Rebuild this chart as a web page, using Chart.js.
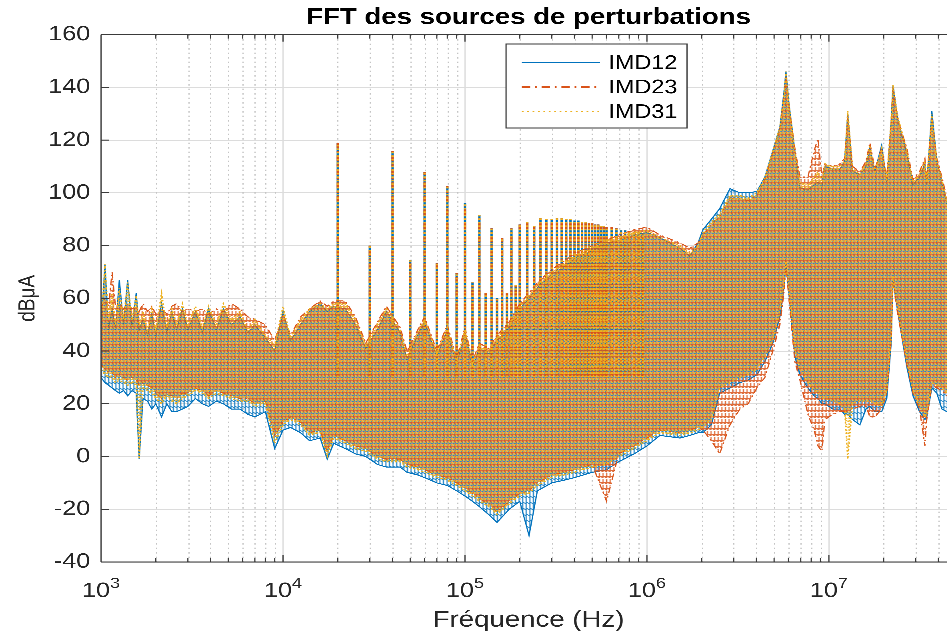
<!DOCTYPE html>
<html>
<head>
<meta charset="utf-8">
<title>FFT des sources de perturbations</title>
<script src="https://cdn.jsdelivr.net/npm/chart.js@4.4.1/dist/chart.umd.min.js"></script>
<style>
  html, body { margin: 0; padding: 0; background: #fff; overflow: hidden; }
  #wrap { width: 800px; height: 635px; transform: scaleX(1.2); transform-origin: 0 0; }
</style>
</head>
<body>
<div id="wrap"><canvas id="fftChart"></canvas></div>
<script>
// spectrum envelopes (dBuA) on a common frequency grid (Hz)
const seriesNames = ['IMD12', 'IMD23', 'IMD31'];

const freqs = [
  1000, 1050, 1100, 1150, 1200, 1260, 1330, 1400, 1480, 1560,
  1620, 1700, 1800, 1900, 2000, 2150, 2300, 2450, 2600, 2800,
  3000, 3300, 3600, 3900, 4300, 4700, 5200, 5800, 6400, 7000,
  8000, 9000, 10000, 11000, 12500, 14000, 16000, 17500, 19000, 22000,
  25000, 28500, 33000, 37000, 44000, 48000, 55000, 60000, 70000, 80000,
  90000, 100000, 110000, 120000, 135000, 150000, 175000, 200000, 225000, 250000,
  300000, 350000, 400000, 500000, 600000, 700000, 850000, 1000000, 1180000, 1520000,
  1720000, 1910000, 2030000, 2260000, 2510000, 2860000, 3240000, 3600000, 4020000, 4450000,
  4920000, 5380000, 5660000, 5810000, 6030000, 6500000, 6930000, 7670000, 8300000, 8710000,
  9160000, 9510000, 10500000, 11500000, 12200000, 12700000, 13500000, 14800000, 16000000, 16800000,
  17900000, 19500000, 20800000, 22000000, 22500000, 23900000, 26800000, 29000000, 31500000, 33700000,
  34500000, 36800000, 39200000, 41800000, 44500000, 50000000
];

const imd12Hi = [
  47, 73, 48, 56, 48, 67, 50, 67, 49, 62,
  48, 52, 46, 54, 46, 58, 47, 55, 48, 56,
  48, 55, 47, 56, 48, 56, 50, 53, 47, 50,
  45, 40, 55, 44, 50, 55, 58, 55, 57, 56,
  50, 41, 48, 55, 47, 37, 46, 51, 38, 48,
  35, 47, 34, 41, 39, 44, 49, 56, 60, 64,
  69, 72, 75, 78, 81, 82, 84, 85, 83, 79,
  76, 81, 86, 90, 94, 101.6, 100, 100, 100.5, 106,
  116, 125, 138, 146, 134, 116, 102, 101, 103, 104,
  103, 110, 109, 109, 112, 130, 108, 107, 110, 117,
  108, 118, 104, 127, 141, 128, 115, 103, 106, 111,
  103, 131, 112, 104, 96, 94
];
const imd12Lo = [
  30, 28, 27, 26, 25, 24, 25, 23, 25, 24,
  -1, 22, 21, 18, 20, 15, 20, 17, 17, 18,
  19, 22, 20, 19, 21, 20, 18, 18, 16, 15,
  17, 3, 10, 11, 9, 6, 7, -1, 5, 3,
  1, 0, -3, -4, -4, -6, -7, -8, -10, -11,
  -13, -15, -17, -19, -22, -25, -20, -17, -30, -13,
  -10, -9, -8, -6, -5, -2, 1, 4, 8, 7,
  8, 9, 9, 12, 24, 26, 28, 29, 31, 36,
  43, 53, 64, 73, 62, 38, 31, 26, 23, 22,
  20, 20, 18, 18, 16, 16, 14, 12, 18, 19,
  17, 17, 22, 43, 67, 55, 34, 23, 17, 14,
  15, 26, 24, 18, 17, 18
];

const imd23Hi = [
  56, 60, 57, 70, 57, 58, 56, 58, 56, 57,
  55, 58, 55, 57, 54, 56, 54, 57, 58, 55,
  56, 55, 56, 54, 56, 55, 58, 56, 53, 52,
  50, 44, 54, 46, 53, 56, 59, 57, 59, 59,
  53, 43, 51, 57, 49, 40, 48, 53, 40, 50,
  37, 49, 36, 43, 41, 46, 51, 58, 62, 66,
  71, 74, 77, 80, 82, 84, 86, 87, 84, 81,
  79, 81, 84, 88, 91, 98, 98, 97, 99, 105,
  115, 124, 136, 144, 133, 117, 106, 106, 116, 120.6,
  106, 111, 110, 111, 113, 129, 110, 108, 112, 119,
  109, 117, 106, 127, 140, 128, 117, 105, 108, 113,
  105, 128, 113, 106, 98, 96
];
const imd23Lo = [
  35, 33, 32, 32, 30, 31, 30, 29, 30, 29,
  27, 28, 27, 26, 24, 22, 24, 23, 22, 24,
  24, 26, 25, 23, 25, 24, 23, 22, 22, 20,
  21, 8, 13, 15, 13, 9, 10, 2, 8, 6,
  4, 3, 0, -1, -1, -3, -4, -5, -7, -8,
  -10, -12, -14, -16, -18, -21, -17, -14, -13, -10,
  -7, -6, -5, -3, -17, 1, 4, 7, 10, 9,
  10, 11, 10, 6, 1, 12, 18, 20, 26, 30,
  40, 50, 62, 72, 60, 36, 29, 16, 10, 4,
  2, 14, 16, 17, 17, 17, 18, 19, 19, 15,
  15, 18, 24, 44, 66, 54, 35, 24, 18, 4,
  14, 27, 26, 25, 23, 24
];

const imd31Hi = [
  50, 73, 52, 62, 50, 64, 52, 66, 52, 61,
  50, 55, 48, 56, 48, 62, 49, 56, 50, 58,
  50, 57, 49, 57, 50, 58, 52, 55, 48, 52,
  46, 42, 57, 45, 52, 56, 58, 56, 58, 58,
  52, 42, 50, 56, 48, 38, 47, 52, 39, 49,
  36, 48, 35, 42, 40, 45, 50, 57, 61, 65,
  70, 73, 76, 79, 82, 83, 85, 86, 83, 80,
  77, 80, 85, 89, 92, 99, 99, 98, 100, 106,
  116, 125, 137, 146, 134, 116, 104, 103, 106, 108,
  104, 111, 110, 110, 112, 131, 109, 107, 111, 118,
  108, 117, 105, 128, 141, 129, 116, 104, 107, 112,
  104, 130, 112, 105, 97, 95
];
const imd31Lo = [
  33, 31, 30, 30, 28, 29, 28, 27, 28, 27,
  -1, 26, 25, 24, 22, 20, 23, 21, 20, 22,
  23, 25, 24, 22, 24, 23, 22, 21, 21, 19,
  20, 5, 12, 14, 12, 8, 9, 0, 7, 5,
  3, 2, -1, -2, -2, -4, -5, -6, -8, -9,
  -11, -13, -15, -17, -19, -22, -18, -15, -14, -11,
  -8, -7, -6, -4, -3, 0, 3, 6, 9, 8,
  9, 10, 11, 14, 26, 28, 30, 31, 33, 38,
  44, 55, 65, 74, 63, 40, 33, 28, 25, 24,
  22, 22, 21, 20, 18, -1, 20, 21, 21, 21,
  20, 19, 25, 45, 68, 56, 36, 25, 19, 15,
  16, 28, 27, 26, 24, 25
];

// switching harmonics standing above the noise floor
const spikeFreqs = [
  20e3, 30e3, 40e3, 50e3, 60e3, 70e3, 80e3, 90e3, 100e3, 110e3,
  120e3, 130e3, 140e3, 150e3, 160e3, 170e3, 180e3, 190e3, 200e3, 220e3,
  240e3, 260e3, 280e3, 300e3, 320e3, 340e3, 360e3, 380e3, 400e3, 420e3,
  440e3, 460e3, 480e3, 500e3, 520e3, 540e3, 560e3, 580e3, 600e3, 640e3,
  680e3, 720e3, 760e3, 800e3, 850e3, 900e3, 950e3
];
const spikePeaks = [
  119, 80, 116, 74.5, 108, 73.5, 102.5, 69.5, 96, 66,
  91.5, 62, 86.5, 60, 83, 62, 86.5, 65, 88, 89,
  87.5, 90.5, 90, 90, 90.5, 90.5, 90, 90, 89.5, 89.5,
  89, 89, 88.5, 88.5, 88, 88, 87.5, 87.5, 87, 87,
  86.5, 86, 86, 85.5, 85, 85, 84.5
];
const spikeFloor = 30;

const xMin = 1e3, xMax = 5e7;
const yMin = -40, yMax = 160, yStep = 20;
const xDecades = [1e3, 1e4, 1e5, 1e6, 1e7];

// 1..9 x 10^n positions for the log grid
const xGridValues = [];
for (let e = 3; e <= 7; e++) {
  for (let m = 1; m <= 9; m++) {
    const v = m * Math.pow(10, e);
    if (v <= xMax) xGridValues.push(v);
  }
}

const FONT = '"Liberation Sans", Arial, Helvetica, sans-serif';
const TEXT = '#262626';

const canvas = document.getElementById('fftChart');
const ctx0 = canvas.getContext('2d');

// vertical hatching tile: cells are [column, row, height]
function hatch(color, cells, w, h) {
  const tile = document.createElement('canvas');
  tile.width = w; tile.height = h;
  const g = tile.getContext('2d');
  g.fillStyle = color;
  cells.forEach(([cx, cy, ch]) => g.fillRect(cx, cy, 1, ch));
  return ctx0.createPattern(tile, 'repeat');
}

const styles = [
  { color: '#0072BD', dash: [], width: 1,
    fill: hatch('rgba(0,114,189,0.85)', [[0, 0, 6], [1, 4, 1], [2, 5, 1]], 3, 6) },
  { color: '#D95319', dash: [6, 3, 1.5, 3], width: 1,
    fill: hatch('rgba(217,83,25,0.85)', [[0, 2, 2], [1, 0, 4], [1, 5, 1], [2, 2, 1]], 3, 6) },
  { color: '#EDB120', dash: [1.5, 2], width: 1.2,
    fill: hatch('rgba(237,177,32,0.92)', [[0, 0, 1], [0, 4, 1], [1, 1, 1], [2, 0, 2], [2, 3, 2]], 3, 6) }
];

const hiSets = [imd12Hi, imd23Hi, imd31Hi];
const loSets = [imd12Lo, imd23Lo, imd31Lo];

function pts(values) {
  return freqs.map((f, i) => ({ x: f, y: values[i] }));
}
function spikePts() {
  const out = [];
  spikeFreqs.forEach((f, i) => {
    out.push({ x: f, y: spikeFloor }, { x: f, y: spikePeaks[i] }, { x: f, y: null });
  });
  return out;
}

const datasets = [];
seriesNames.forEach((name, k) => {
  const st = styles[k];
  const order = 3 - k;
  datasets.push({
    label: name, data: pts(hiSets[k]), borderColor: st.color, borderWidth: st.width,
    borderDash: st.dash, pointRadius: 0, fill: false, order
  });
  datasets.push({
    label: name, data: pts(loSets[k]), borderColor: st.color, borderWidth: st.width,
    borderDash: st.dash, pointRadius: 0, fill: '-1', backgroundColor: st.fill, order
  });
  datasets.push({
    label: name, data: spikePts(), borderColor: st.color, borderWidth: 2,
    borderDash: st.dash, pointRadius: 0, fill: false, spanGaps: false, order
  });
});

// dotted minor grid for the log axis
const minorGrid = {
  id: 'minorGrid',
  beforeDatasetsDraw(chart) {
    const { ctx, chartArea: a, scales: { x } } = chart;
    ctx.save();
    ctx.strokeStyle = '#c4c4c4';
    ctx.lineWidth = 1;
    ctx.setLineDash([1.5, 3]);
    xGridValues.forEach(v => {
      if (xDecades.includes(v)) return;
      const px = Math.round(x.getPixelForValue(v)) + 0.5;
      ctx.beginPath();
      ctx.moveTo(px, a.top);
      ctx.lineTo(px, a.bottom);
      ctx.stroke();
    });
    ctx.restore();
  }
};

// axes box with inward ticks, decade labels and the legend
const axesBox = {
  id: 'axesBox',
  afterDraw(chart) {
    const { ctx, chartArea: a, scales: { x, y } } = chart;
    ctx.save();
    ctx.strokeStyle = '#3a3a3a';
    ctx.lineWidth = 1;
    ctx.setLineDash([]);
    ctx.beginPath();
    ctx.moveTo(a.left, a.top); ctx.lineTo(a.right, a.top);
    ctx.moveTo(a.left, a.bottom); ctx.lineTo(a.right, a.bottom);
    ctx.moveTo(a.left, a.top); ctx.lineTo(a.left, a.bottom);
    ctx.moveTo(a.right, a.top); ctx.lineTo(a.right, a.bottom);
    for (let v = yMin; v <= yMax; v += yStep) {
      const py = y.getPixelForValue(v);
      ctx.moveTo(a.left, py); ctx.lineTo(a.left + 6.5, py);
    }
    xGridValues.forEach(v => {
      const px = x.getPixelForValue(v);
      const len = xDecades.includes(v) ? 7 : 4;
      ctx.moveTo(px, a.bottom); ctx.lineTo(px, a.bottom - len);
      ctx.moveTo(px, a.top); ctx.lineTo(px, a.top + len);
    });
    ctx.stroke();

    // 10^n labels under the axis
    ctx.fillStyle = TEXT;
    ctx.textBaseline = 'alphabetic';
    ctx.textAlign = 'left';
    xDecades.forEach(v => {
      const exp = String(Math.round(Math.log10(v)));
      ctx.font = '21px ' + FONT;
      const wb = ctx.measureText('10').width;
      ctx.font = '15px ' + FONT;
      const we = ctx.measureText(exp).width;
      const left = x.getPixelForValue(v) - (wb + we) / 2;
      ctx.font = '21px ' + FONT;
      ctx.fillText('10', left, a.bottom + 35);
      ctx.font = '15px ' + FONT;
      ctx.fillText(exp, left + wb, a.bottom + 26);
    });

    // legend
    const bx = 421.7, by = 44, bw = 150.8, bh = 84;
    ctx.fillStyle = '#fff';
    ctx.fillRect(bx, by, bw, bh);
    ctx.strokeStyle = '#3a3a3a';
    ctx.lineWidth = 1;
    ctx.strokeRect(bx, by, bw, bh);
    const rows = [62.5, 87, 111.5];
    const sampleDash = [[], [7, 4, 1.5, 4], [1.5, 3]];
    seriesNames.forEach((name, k) => {
      ctx.strokeStyle = styles[k].color;
      ctx.lineWidth = 1.3;
      ctx.setLineDash(sampleDash[k]);
      ctx.beginPath();
      ctx.moveTo(434.8, rows[k]);
      ctx.lineTo(500, rows[k]);
      ctx.stroke();
      ctx.setLineDash([]);
      ctx.fillStyle = '#000';
      ctx.font = '19.5px ' + FONT;
      ctx.textBaseline = 'middle';
      ctx.fillText(name, 507, rows[k] + 1);
    });
    ctx.restore();
  }
};

new Chart(canvas, {
  type: 'line',
  data: { datasets },
  options: {
    responsive: true,
    maintainAspectRatio: false,
    devicePixelRatio: 3,
    animation: false,
    layout: { padding: { left: 0, right: 3.3, top: 0, bottom: 0 } },
    elements: { line: { tension: 0 } },
    plugins: {
      legend: { display: false },
      tooltip: { enabled: false },
      title: {
        display: true,
        fullSize: false,
        text: 'FFT des sources de perturbations',
        color: '#000',
        font: { family: FONT, size: 23, weight: 'bold' },
        padding: { top: 4, bottom: 3 }
      }
    },
    scales: {
      x: {
        type: 'logarithmic',
        min: xMin,
        max: xMax,
        afterBuildTicks: scale => {
          scale.ticks = xGridValues.map(v => ({ value: v, major: xDecades.includes(v) }));
        },
        afterFit: scale => { scale.height = 73; },
        ticks: { display: false },
        grid: {
          drawTicks: false,
          color: c => (c.tick && xDecades.includes(c.tick.value)) ? '#dcdcdc' : 'rgba(0,0,0,0)'
        },
        border: { display: false },
        title: {
          display: true,
          text: 'Fréquence (Hz)',
          color: TEXT,
          font: { family: FONT, size: 23 },
          padding: { top: 0, bottom: 1 }
        }
      },
      y: {
        type: 'linear',
        min: yMin,
        max: yMax,
        afterFit: scale => { scale.width = 84.2; },
        ticks: {
          stepSize: yStep,
          color: TEXT,
          padding: 9,
          font: { family: FONT, size: 21 }
        },
        grid: { drawTicks: false, color: '#dcdcdc' },
        border: { display: false },
        title: {
          display: true,
          text: 'dBμA',
          color: TEXT,
          font: { family: FONT, size: 19 },
          padding: { top: 12, bottom: 0 }
        }
      }
    }
  },
  plugins: [minorGrid, axesBox]
});
</script>
</body>
</html>
